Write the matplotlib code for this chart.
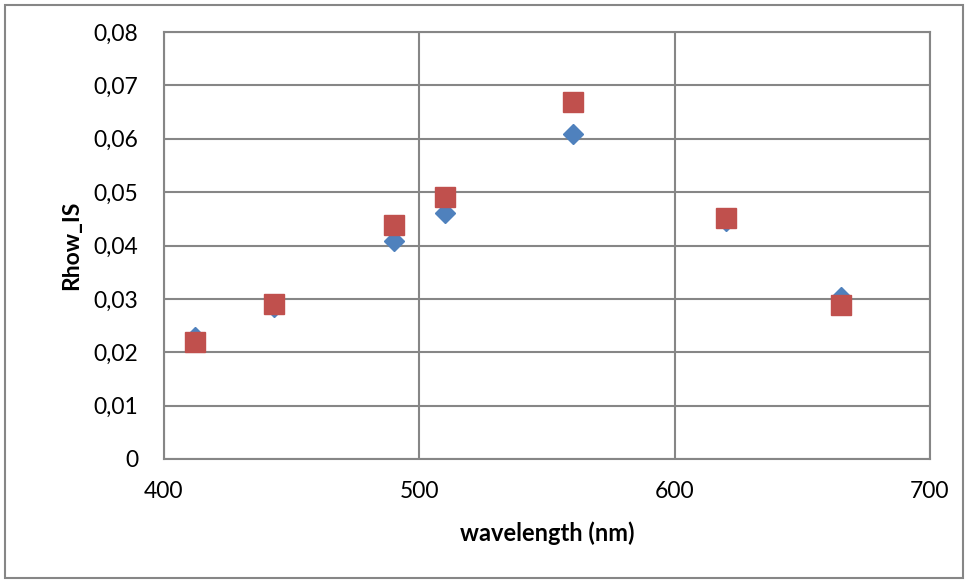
import matplotlib.pyplot as plt
from matplotlib.ticker import FuncFormatter, MultipleLocator
from matplotlib.patches import Rectangle

# wavelengths (nm) and the two Rhow_IS series
wavelength = [412, 443, 490, 510, 560, 620, 665]
rhow_blue = [0.0228, 0.0285, 0.0408, 0.0460, 0.0608, 0.0446, 0.0303]
rhow_red = [0.0219, 0.0290, 0.0438, 0.0490, 0.0668, 0.0452, 0.0289]

plt.rcParams['font.family'] = ['Lato', 'DejaVu Sans']

fig = plt.figure(figsize=(9.68, 5.83), dpi=100)
ax = fig.add_axes([0.1694, 0.2127, 0.7913, 0.7324])

# outer chart border
fig.patches.append(Rectangle((0.005, 0.009), 0.99, 0.982, transform=fig.transFigure,
                             fill=False, edgecolor='#868686', linewidth=1.5))

ax.plot(wavelength, rhow_blue, 'D', color='#4F81BD', markersize=10, zorder=3)
ax.plot(wavelength, rhow_red, 's', color='#C0504D', markersize=14, zorder=4)

ax.set_xlim(400, 700)
ax.set_ylim(0, 0.08)
ax.xaxis.set_major_locator(MultipleLocator(100))
ax.yaxis.set_major_locator(MultipleLocator(0.01))

def virgula(v, pos):
    if abs(v) < 1e-9:
        return '0'
    return ('%.2f' % v).replace('.', ',')

ax.yaxis.set_major_formatter(FuncFormatter(virgula))

ax.grid(True, color='#868686', linewidth=1.5)
ax.set_axisbelow(True)
for s in ax.spines.values():
    s.set_color('#868686')
    s.set_linewidth(1.5)

ax.tick_params(length=0, labelsize=16.5)
ax.tick_params(axis='x', pad=16)
ax.tick_params(axis='y', pad=18.5)

ax.set_xlabel('wavelength (nm)', fontsize=17, fontweight='bold', labelpad=14)
ax.set_ylabel('Rhow_IS', fontsize=16.5, fontweight='bold', labelpad=8)

fig.savefig('out.png', dpi=100)
